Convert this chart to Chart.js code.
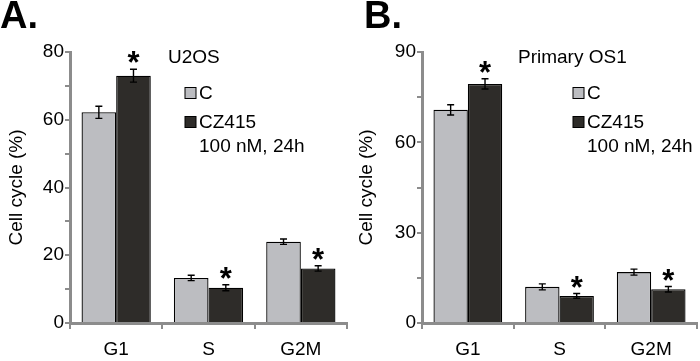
<!DOCTYPE html>
<html>
<head>
<meta charset="utf-8">
<script src="https://cdn.jsdelivr.net/npm/chart.js@4"></script>
<style>
  body { margin: 0; background: #fff; }
  .wrap { display: flex; width: 700px; height: 361px; }
  .panel { position: relative; width: 350px; height: 361px; }
</style>
</head>
<body>
<div class="wrap">
  <div class="panel"><canvas id="chartA"></canvas></div>
  <div class="panel"><canvas id="chartB"></canvas></div>
</div>
<script>
// categories
const phases = ['G1', 'S', 'G2M'];

// panel A - U2OS
const ctrlA = [62.2, 13.3, 24.0];
const ctrlErrA = [1.8, 0.8, 0.8];
const czA = [73.0, 10.4, 16.1];
const czErrA = [1.9, 0.9, 0.8];
const starsA = [true, true, true];
const yTicksA = [0, 20, 40, 60, 80];

// panel B - Primary OS1
const ctrlB = [70.8, 12.0, 16.9];
const ctrlErrB = [1.7, 1.0, 1.0];
const czB = [79.4, 9.0, 11.2];
const czErrB = [1.7, 0.8, 0.9];
const starsB = [true, true, true];
const yTicksB = [0, 30, 60, 90];

const axisGray = '#8c8c8c';
const lightBar = '#bcbdc1';
const darkBar = '#2e2c29';
const font = 'Arial, "Liberation Sans", sans-serif';

// error bars + asterisks + legend text
const extrasPlugin = {
    id: 'extras',
    afterDatasetsDraw(chart, args, opts) {
        const ctx = chart.ctx;
        const y = chart.scales.y;
        ctx.save();
        ctx.strokeStyle = '#000';
        ctx.lineWidth = 1.4;
        chart.data.datasets.forEach((ds, i) => {
            const meta = chart.getDatasetMeta(i);
            meta.data.forEach((bar, j) => {
                const v = ds.data[j], e = ds.errors[j];
                const yt = y.getPixelForValue(v + e);
                const yb = y.getPixelForValue(v - e);
                ctx.beginPath();
                ctx.moveTo(bar.x, yt); ctx.lineTo(bar.x, yb);
                ctx.moveTo(bar.x - 3.5, yt); ctx.lineTo(bar.x + 3.5, yt);
                ctx.moveTo(bar.x - 3.5, yb); ctx.lineTo(bar.x + 3.5, yb);
                ctx.stroke();
                if (ds.stars && ds.stars[j]) {
                    ctx.fillStyle = '#000';
                    ctx.font = 'bold 31px ' + font;
                    ctx.textAlign = 'center';
                    ctx.textBaseline = 'top';
                    ctx.fillText('*', bar.x, yt - 20);
                }
            });
        });
        ctx.restore();
    },
    afterDraw(chart, args, opts) {
        const ctx = chart.ctx;
        ctx.save();
        ctx.fillStyle = '#000';
        ctx.font = 'bold 38px ' + font;
        ctx.textBaseline = 'alphabetic';
        ctx.textAlign = 'left';
        ctx.fillText(opts.panel, opts.panelX, 28);

        ctx.font = '19px ' + font;
        ctx.textBaseline = 'middle';
        ctx.fillText(opts.cell, 168, 58);

        const bx = opts.boxX;
        [[lightBar, 'C', 93], [darkBar, 'CZ415', 122]].forEach(([c, t, yy]) => {
            ctx.fillStyle = c;
            ctx.fillRect(bx, yy - 5.5, 11, 11);
            ctx.strokeStyle = '#000';
            ctx.lineWidth = 1;
            ctx.strokeRect(bx, yy - 5.5, 11, 11);
            ctx.fillStyle = '#000';
            ctx.fillText(t, bx + 14, yy + 1);
        });
        ctx.fillText('100 nM, 24h', bx + 14, 147);
        ctx.restore();
    }
};

function makeChart(id, ctrl, ctrlErr, cz, czErr, stars, yTicks, yMax, step, panel, cell, panelX, boxX, yWidth) {
    return new Chart(document.getElementById(id).getContext('2d'), {
        type: 'bar',
        data: {
            labels: phases,
            datasets: [{
                label: 'C',
                data: ctrl,
                errors: ctrlErr,
                backgroundColor: lightBar,
                borderColor: '#000',
                borderWidth: 1.3,
                categoryPercentage: 0.75,
                barPercentage: 1.0
            }, {
                label: 'CZ415 100 nM, 24h',
                data: cz,
                errors: czErr,
                stars: stars,
                backgroundColor: darkBar,
                borderColor: '#000',
                borderWidth: 1.3,
                categoryPercentage: 0.75,
                barPercentage: 1.0
            }]
        },
        options: {
            responsive: true,
            maintainAspectRatio: false,
            animation: false,
            layout: { padding: { top: 52, right: 3, left: 0, bottom: 0 } },
            plugins: {
                legend: { display: false },
                tooltip: { enabled: false },
                extras: { panel: panel, cell: cell, panelX: panelX, boxX: boxX }
            },
            scales: {
                x: {
                    grid: { offset: true, drawOnChartArea: false, drawTicks: true, tickLength: 6, color: axisGray, lineWidth: 2 },
                    border: { color: axisGray, width: 3 },
                    ticks: { color: '#000', font: { size: 19, family: font }, padding: 9 },
                    afterFit(scale) { scale.height = 38; }
                },
                y: {
                    min: 0,
                    max: yMax,
                    grid: { drawOnChartArea: false, drawTicks: true, tickLength: 5, color: axisGray, lineWidth: 2 },
                    border: { color: axisGray, width: 3 },
                    ticks: {
                        stepSize: step,
                        color: '#000',
                        font: { size: 19, family: font },
                        padding: 1,
                        callback: v => yTicks.includes(v) ? v : ''
                    },
                    title: {
                        display: true,
                        text: 'Cell cycle (%)',
                        color: '#000',
                        font: { size: 19, family: font },
                        padding: { top: 5, bottom: 0 }
                    },
                    afterFit(scale) { scale.width = yWidth; }
                }
            }
        },
        plugins: [extrasPlugin]
    });
}

makeChart('chartA', ctrlA, ctrlErrA, czA, czErrA, starsA, yTicksA, 80, 10, 'A.', 'U2OS', 0, 185, 70);
makeChart('chartB', ctrlB, ctrlErrB, czB, czErrB, starsB, yTicksB, 90, 15, 'B.', 'Primary OS1', 14, 223, 72);
</script>
</body>
</html>
